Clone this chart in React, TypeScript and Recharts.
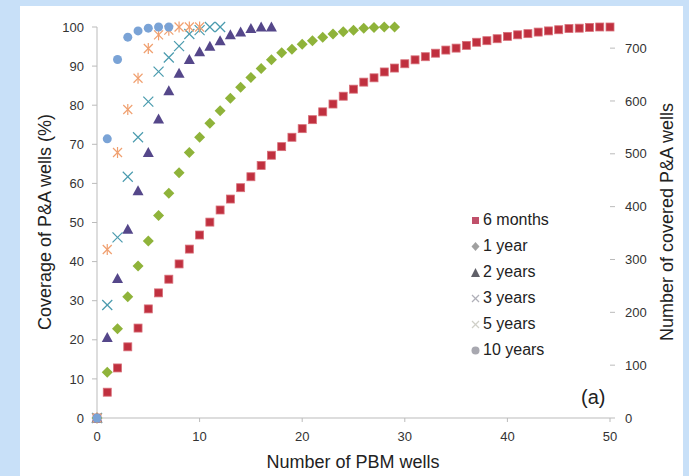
import React from 'react';
import { ScatterChart, Scatter, XAxis, YAxis } from 'recharts';

// Coverage (%) per number of PBM wells, index = number of wells
const sixMonths = [0, 6.6, 12.8, 18.2, 23, 27.9, 32, 35.5, 39.4, 43.2, 46.8, 50.1, 53.2, 56, 58.9, 61.7, 64.6, 67.2, 69.4, 71.8, 74, 76.3, 78.3, 80.3, 82.3, 84.1, 85.9, 87, 88.5, 89.5, 90.6, 91.6, 92.4, 93.3, 94.1, 94.6, 95.3, 96.1, 96.5, 97, 97.6, 98, 98.3, 98.7, 99, 99.3, 99.6, 99.7, 99.9, 100, 100];
const oneYear = [0, 11.7, 22.8, 31, 38.9, 45.3, 51.8, 57.5, 62.7, 67.9, 71.8, 75.4, 78.6, 81.8, 84.6, 87.1, 89.4, 91.6, 93.4, 94.3, 95.6, 96.5, 97.4, 98.2, 98.8, 99.2, 99.7, 99.9, 100, 100];
const twoYears = [0, 20.6, 35.7, 48.3, 58.1, 67.9, 76.5, 83.7, 88.2, 91.7, 93.7, 95.1, 96.5, 98, 98.7, 99.6, 100, 100];
const threeYears = [0, 28.9, 46.2, 61.7, 71.8, 80.9, 88.6, 92.2, 95.1, 98.2, 99.2, 100, 100];
const fiveYears = [0, 43.1, 67.9, 78.9, 86.9, 94.5, 98, 99.2, 100, 100, 100];
const tenYears = [0, 71.4, 91.7, 97.4, 99, 99.7, 100, 100];

// total P&A wells (100 % coverage) for the right-hand axis
const totalWells = 740;

const xTicks = [0, 10, 20, 30, 40, 50];
const leftTicks = [0, 10, 20, 30, 40, 50, 60, 70, 80, 90, 100];
const rightTicks = [0, 100, 200, 300, 400, 500, 600, 700];

const toPoints = (vals: number[]) => vals.map((y, x) => ({ x, y }));

const Square = (p: any) => (
  <rect x={p.cx - 4} y={p.cy - 4} width={8} height={8} fill="#c0303f" stroke="#d8707a" strokeWidth={0.8} />
);
const Diamond = (p: any) => (
  <polygon points={`${p.cx},${p.cy - 5.5} ${p.cx + 5.5},${p.cy} ${p.cx},${p.cy + 5.5} ${p.cx - 5.5},${p.cy}`} fill="#8fb33a" />
);
const Triangle = (p: any) => (
  <polygon points={`${p.cx},${p.cy - 5.5} ${p.cx + 5.5},${p.cy + 4.5} ${p.cx - 5.5},${p.cy + 4.5}`} fill="#55478a" />
);
const Cross = (p: any) => (
  <g stroke="#4a9bae" strokeWidth={1.2}>
    <line x1={p.cx - 5} y1={p.cy - 5} x2={p.cx + 5} y2={p.cy + 5} />
    <line x1={p.cx - 5} y1={p.cy + 5} x2={p.cx + 5} y2={p.cy - 5} />
  </g>
);
const Star = (p: any) => (
  <g stroke="#f0a070" strokeWidth={1.2}>
    <line x1={p.cx - 4.5} y1={p.cy - 4.5} x2={p.cx + 4.5} y2={p.cy + 4.5} />
    <line x1={p.cx - 4.5} y1={p.cy + 4.5} x2={p.cx + 4.5} y2={p.cy - 4.5} />
    <line x1={p.cx} y1={p.cy - 5.5} x2={p.cx} y2={p.cy + 5.5} />
  </g>
);
const Dot = (p: any) => <circle cx={p.cx} cy={p.cy} r={4.5} fill="#7aa3d6" />;
const Nothing = () => <g />;

const series = [
  { name: '6 months', data: sixMonths, shape: Square, icon: 'square', iconColor: '#c0506a' },
  { name: '1 year', data: oneYear, shape: Diamond, icon: 'diamond', iconColor: '#a0a0a0' },
  { name: '2 years', data: twoYears, shape: Triangle, icon: 'triangle', iconColor: '#606068' },
  { name: '3 years', data: threeYears, shape: Cross, icon: 'cross', iconColor: '#b0b0b8' },
  { name: '5 years', data: fiveYears, shape: Star, icon: 'cross', iconColor: '#d0d0c8' },
  { name: '10 years', data: tenYears, shape: Dot, icon: 'circle', iconColor: '#a8a8b0' },
];

const LegendIcon = ({ kind, color }: { kind: string; color: string }) => {
  let el: React.ReactNode = null;
  if (kind === 'square') el = <rect x={2} y={3} width={7} height={7} fill={color} />;
  if (kind === 'diamond') el = <polygon points="5.5,2 9.5,6.5 5.5,11 1.5,6.5" fill={color} />;
  if (kind === 'triangle') el = <polygon points="5.5,2 10,11 1,11" fill={color} />;
  if (kind === 'cross')
    el = (
      <g stroke={color} strokeWidth={1.2}>
        <line x1={2} y1={3} x2={9} y2={10} />
        <line x1={2} y1={10} x2={9} y2={3} />
      </g>
    );
  if (kind === 'circle') el = <circle cx={5.5} cy={6.5} r={4} fill={color} />;
  return (
    <svg width={11} height={13} style={{ marginRight: 2 }}>
      {el}
    </svg>
  );
};

const tickStyle = { fontSize: 13, fill: '#333', fontFamily: 'Liberation Sans, Arial, sans-serif' };

export default function App() {
  return (
    <div
      style={{
        position: 'fixed',
        left: 0,
        top: 0,
        width: 689,
        height: 476,
        background: '#c8e0f8',
        overflow: 'hidden',
        fontFamily: 'Liberation Sans, Arial, sans-serif',
      }}
    >
      <div style={{ position: 'absolute', left: 20, top: 6, width: 663, height: 470, background: '#fff' }} />
      <div style={{ position: 'absolute', left: 0, top: 0 }}>
        <ScatterChart width={689} height={476} margin={{ top: 27, right: 19, bottom: 28, left: 37 }}>
          <XAxis
            type="number"
            dataKey="x"
            domain={[0, 50]}
            ticks={xTicks}
            tick={tickStyle}
            tickSize={4}
            tickMargin={10}
            height={30}
            stroke="#bbb"
          />
          <YAxis
            yAxisId="left"
            type="number"
            dataKey="y"
            domain={[0, 100]}
            ticks={leftTicks}
            tick={tickStyle}
            tickSize={5}
            tickMargin={8}
            width={60}
            stroke="#bbb"
          />
          <YAxis
            yAxisId="right"
            orientation="right"
            type="number"
            dataKey="y"
            domain={[0, totalWells]}
            allowDataOverflow
            ticks={rightTicks}
            tick={tickStyle}
            tickSize={5}
            tickMargin={10}
            width={60}
            axisLine={false}
            stroke="#bbb"
          />
          {series.map((s) => (
            <Scatter
              key={s.name}
              name={s.name}
              yAxisId="left"
              data={toPoints(s.data)}
              shape={s.shape}
              isAnimationActive={false}
            />
          ))}
          {/* covered wells on the right axis, invisible (same marks as 6 months) */}
          <Scatter
            yAxisId="right"
            data={toPoints(sixMonths.map((v) => (v / 100) * totalWells))}
            shape={Nothing}
            legendType="none"
            isAnimationActive={false}
          />
        </ScatterChart>
      </div>
      <div style={{ position: 'absolute', left: 470, top: 207 }}>
        {series.map((s) => (
          <div key={s.name} style={{ display: 'flex', alignItems: 'center', height: 26, fontSize: 16, color: '#222' }}>
            <LegendIcon kind={s.icon} color={s.iconColor} />
            <span>{s.name}</span>
          </div>
        ))}
      </div>
      <div
        style={{
          position: 'absolute',
          left: 45,
          top: 222,
          transform: 'translate(-50%, -50%) rotate(-90deg)',
          whiteSpace: 'nowrap',
          fontSize: 18,
          color: '#222',
        }}
      >
        Coverage of P&amp;A wells (%)
      </div>
      <div
        style={{
          position: 'absolute',
          left: 667,
          top: 222,
          transform: 'translate(-50%, -50%) rotate(-90deg)',
          whiteSpace: 'nowrap',
          fontSize: 18,
          color: '#222',
        }}
      >
        Number of covered P&amp;A wells
      </div>
      <div
        style={{
          position: 'absolute',
          left: 353,
          top: 462,
          transform: 'translate(-50%, -50%)',
          whiteSpace: 'nowrap',
          fontSize: 18,
          color: '#222',
        }}
      >
        Number of PBM wells
      </div>
      <div style={{ position: 'absolute', left: 581, top: 386, fontSize: 20, color: '#222' }}>(a)</div>
    </div>
  );
}
